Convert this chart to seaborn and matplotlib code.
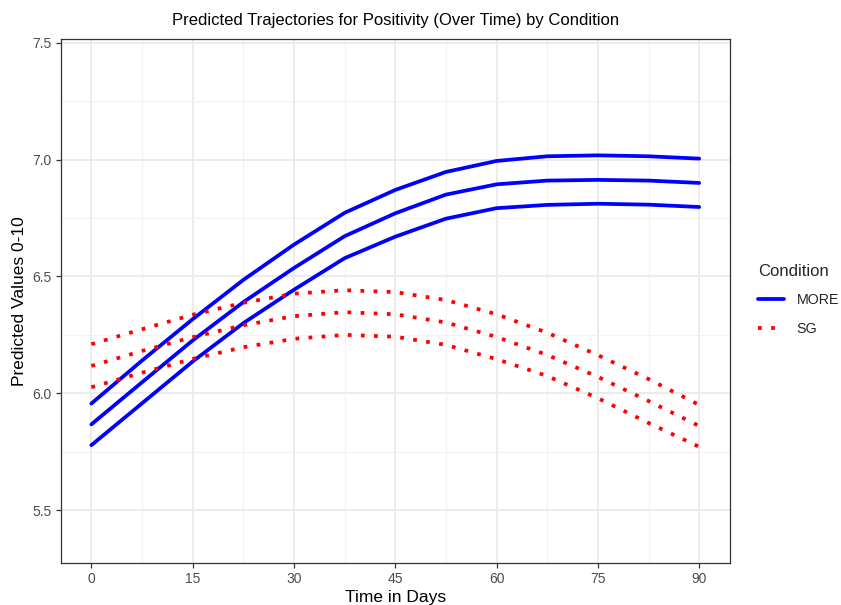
import numpy as np
import pandas as pd
import matplotlib
matplotlib.use("Agg")
import matplotlib.pyplot as plt
from matplotlib.ticker import MultipleLocator, FormatStrFormatter
import seaborn as sns

# values, one point every 7.5 days
days = [0, 7.5, 15, 22.5, 30, 37.5, 45, 52.5, 60, 67.5, 75, 82.5, 90]

more_upper = [5.956, 6.140, 6.317, 6.485, 6.636, 6.772, 6.870, 6.947, 6.994, 7.014, 7.018, 7.014, 7.004]
more_mid = [5.867, 6.047, 6.226, 6.390, 6.536, 6.672, 6.770, 6.850, 6.894, 6.910, 6.913, 6.910, 6.900]
more_lower = [5.778, 5.957, 6.136, 6.300, 6.443, 6.578, 6.670, 6.747, 6.792, 6.806, 6.811, 6.807, 6.797]

sg_upper = [6.210, 6.274, 6.336, 6.387, 6.426, 6.441, 6.433, 6.399, 6.338, 6.259, 6.163, 6.061, 5.950]
sg_mid = [6.117, 6.181, 6.240, 6.291, 6.330, 6.347, 6.338, 6.303, 6.241, 6.164, 6.070, 5.967, 5.860]
sg_lower = [6.026, 6.088, 6.147, 6.197, 6.233, 6.250, 6.242, 6.207, 6.146, 6.074, 5.979, 5.873, 5.771]

conditions = ["MORE", "SG"]

rows = []
for cond, bands in [("MORE", [more_upper, more_mid, more_lower]),
                    ("SG", [sg_upper, sg_mid, sg_lower])]:
    for b, vals in enumerate(bands):
        for d, v in zip(days, vals):
            rows.append({"Time": d, "Value": v, "Condition": cond, "band": f"{cond}_{b}"})
df = pd.DataFrame(rows)

sns.set_theme(style="white")
plt.rcParams["font.family"] = ["Liberation Sans", "DejaVu Sans"]

fig = plt.figure(figsize=(8.41, 6.05), dpi=100)
ax = fig.add_axes([0.0725, 0.0695, 0.795, 0.8665])

# grid first (theme_bw look)
ax.set_axisbelow(True)
ax.xaxis.set_major_locator(MultipleLocator(15))
ax.xaxis.set_minor_locator(MultipleLocator(7.5))
ax.yaxis.set_major_locator(MultipleLocator(0.5))
ax.yaxis.set_minor_locator(MultipleLocator(0.25))
ax.yaxis.set_major_formatter(FormatStrFormatter("%.1f"))
ax.grid(which="major", color="#ebebeb", linewidth=1.3)
ax.grid(which="minor", color="#f2f2f2", linewidth=0.8)

sns.lineplot(data=df, x="Time", y="Value", hue="Condition", style="Condition",
             units="band", estimator=None, hue_order=conditions, style_order=conditions,
             palette={"MORE": "#0000ff", "SG": "#ff0000"},
             dashes={"MORE": "", "SG": (1, 2.5)}, linewidth=2.7, ax=ax, legend=False)

ax.set_xlim(-4.5, 94.5)
ax.set_ylim(5.274, 7.517)

for s in ax.spines.values():
    s.set_color("#333333")
    s.set_linewidth(0.9)
ax.tick_params(which="major", length=3.5, width=0.9, color="#333333",
               labelsize=10, labelcolor="#4d4d4d", pad=3, bottom=True, left=True)
ax.tick_params(which="minor", length=0)

ax.set_xlabel("Time in Days", fontsize=12.5, color="black", labelpad=3)
ax.set_ylabel("Predicted Values 0-10", fontsize=12.5, color="black", labelpad=4)
ax.set_title("Predicted Trajectories for Positivity (Over Time) by Condition",
             fontsize=12, color="black", pad=10)

handles = [plt.Line2D([], [], color="#0000ff", linewidth=2.7),
           plt.Line2D([], [], color="#ff0000", linewidth=2.7, linestyle=(0, (1, 2.5)))]
leg = fig.legend(handles, conditions, title="Condition", loc="upper left",
                 bbox_to_anchor=(0.886, 0.585), frameon=False, fontsize=10.3,
                 title_fontsize=12, handlelength=1.8, handletextpad=0.9,
                 labelspacing=1.0, alignment="left")

fig.savefig("out.png", dpi=100)
